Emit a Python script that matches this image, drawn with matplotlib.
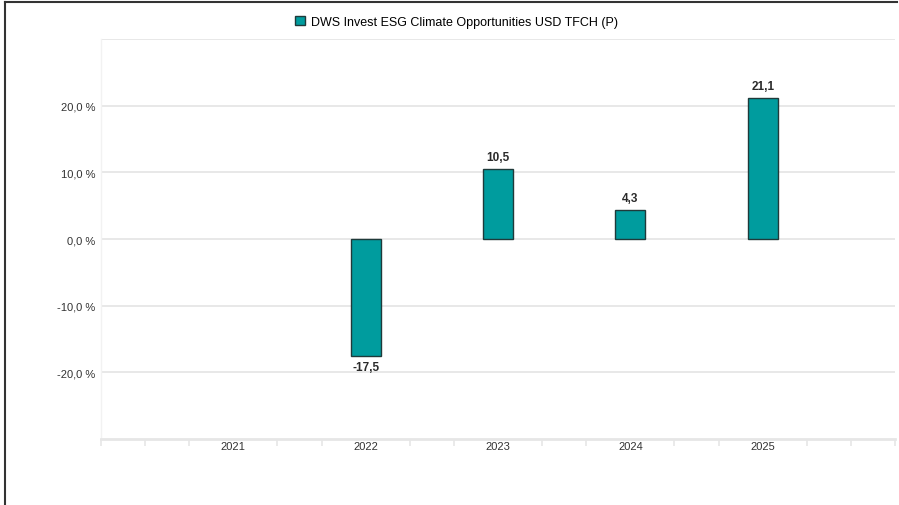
import matplotlib.pyplot as plt
import numpy as np
from matplotlib.lines import Line2D

plt.rcParams["font.family"] = ["Liberation Sans", "DejaVu Sans"]

years = [2021, 2022, 2023, 2024, 2025]
returns = [np.nan, -17.5, 10.5, 4.3, 21.1]
series_name = "DWS Invest ESG Climate Opportunities USD TFCH (P)"
y_ticks = [-20, -10, 0, 10, 20]

bar_color = "#009c9e"
grid_color = "#e6e6e6"


def fmt_pct(v):
    return "{:.1f} %".format(v).replace(".", ",")


fig = plt.figure(figsize=(8.99, 5.06), dpi=100)
ax = fig.add_axes([0.1123, 0.1304, 0.8833, 0.7905])

x = np.arange(len(years))
ax.bar(x, returns, width=0.225, color=bar_color, edgecolor="#1f3a3a",
       linewidth=1.0, zorder=3, label=series_name)

for xi, v in zip(x, returns):
    if np.isnan(v):
        continue
    offset = 4.5 if v >= 0 else -4
    va = "bottom" if v >= 0 else "top"
    ax.annotate("{:.1f}".format(v).replace(".", ","), (xi, v),
                xytext=(0, offset), textcoords="offset points",
                ha="center", va=va, fontsize=8.5, fontweight="bold",
                color="#2a2a2a")

ax.set_xlim(-1, len(years))
ax.set_ylim(-30, 30)

# horizontal grid, including the unlabelled top line
for g in [-20, -10, 0, 10, 20, 30]:
    ax.axhline(g, color=grid_color, linewidth=1.3, zorder=1)

ax.set_yticks(y_ticks)
ax.set_yticklabels([fmt_pct(t) for t in y_ticks])
ax.tick_params(axis="y", length=0, pad=4, labelsize=8, labelcolor="#333333")

ax.set_xticks(x)
ax.set_xticklabels([str(y) for y in years])
ax.tick_params(axis="x", length=0, pad=1.5, labelsize=8, labelcolor="#333333")
minor = [m / 3 for m in range(-3, 3 * len(years) + 1) if m % 3 != 0]
ax.set_xticks(minor + [-1, len(years)], minor=True)
ax.tick_params(axis="x", which="minor", length=5, width=1.2, color=grid_color)

for side in ["top", "right"]:
    ax.spines[side].set_visible(False)
ax.spines["left"].set_color("#f2f2f2")
ax.spines["left"].set_linewidth(1.0)
ax.spines["bottom"].set_color(grid_color)
ax.spines["bottom"].set_linewidth(2.0)

fig.legend(loc="center", bbox_to_anchor=(0.508, 0.955), frameon=False,
           fontsize=9, handlelength=0.8, handleheight=0.8, handletextpad=0.5)

# left and top frame of the screenshot
fig.add_artist(Line2D([0.0061, 0.0061], [0.0, 0.995], color="#333333",
                      linewidth=1.5, transform=fig.transFigure))
fig.add_artist(Line2D([0.0061, 0.998], [0.995, 0.995], color="#333333",
                      linewidth=1.5, transform=fig.transFigure))

fig.savefig("out.png", dpi=100)
